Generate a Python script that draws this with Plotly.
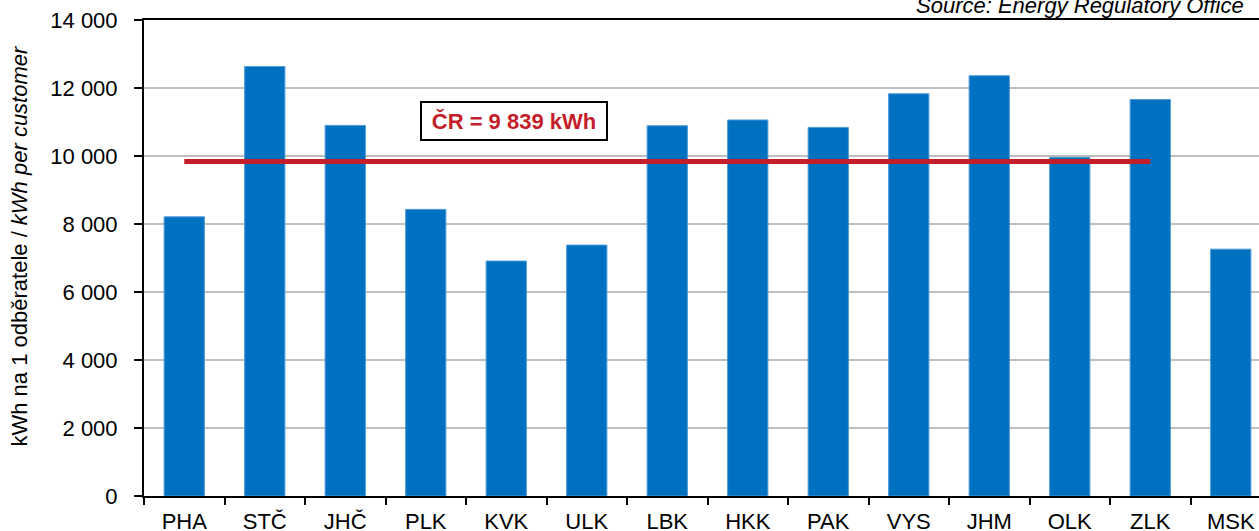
import plotly.graph_objects as go

regions = ["PHA", "STČ", "JHČ", "PLK", "KVK", "ULK", "LBK", "HKK", "PAK", "VYS", "JHM", "OLK", "ZLK", "MSK"]
consumption = [8210, 12630, 10900, 8430, 6910, 7380, 10890, 11060, 10840, 11830, 12360, 9960, 11660, 7260]
national_avg = 9839
avg_label = "ČR = 9 839 kWh"
y_title = "kWh na 1 odběratele / <i>kWh per customer</i>"
source_text = "<i>Source: Energy Regulatory Office</i>"

W, H = 1259, 531
L, R, T, B = 144, 0, 20, 35
PW, PH = W - L - R, H - T - B
FONT = "Liberation Sans, Arial, sans-serif"
FS = 22

fig = go.Figure()
fig.add_trace(go.Bar(
    x=regions, y=consumption, width=0.5,
    marker=dict(color="#0070C0", line=dict(color="#4A9AD8", width=1)),
    showlegend=False,
))
fig.add_trace(go.Scatter(
    x=regions[:13], y=[national_avg] * 13, mode="lines",
    line=dict(color="#C41E2A", width=5),
    showlegend=False,
))

fig.add_annotation(
    text="<b>" + avg_label + "</b>", xref="paper", yref="y",
    x=(514 - L) / PW, y=11030, xanchor="center", yanchor="middle",
    showarrow=False, font=dict(family=FONT, size=FS, color="#C41E2A"),
    bordercolor="black", borderwidth=2, borderpad=3, bgcolor="white",
    width=178, height=30,
)
fig.add_annotation(
    text=source_text, xref="paper", yref="paper",
    x=(1246 - L) / PW, y=(H - B - 20) / PH, xanchor="right", yanchor="bottom",
    showarrow=False, font=dict(family=FONT, size=FS, color="black"),
)
fig.add_annotation(
    text=y_title, xref="paper", yref="paper",
    x=(18.5 - L) / PW, y=(H - B - 246) / PH, xanchor="center", yanchor="middle",
    textangle=-90, showarrow=False, font=dict(family=FONT, size=FS, color="black"),
)

fig.update_layout(
    width=W, height=H,
    margin=dict(l=L, r=R, t=T, b=B, autoexpand=False),
    paper_bgcolor="white", plot_bgcolor="white",
    font=dict(family=FONT, size=FS, color="black"),
    separators=". ",
)
fig.update_xaxes(
    type="category", range=[-0.5, -0.5 + PW / 80.5],
    showline=True, linecolor="black", linewidth=2, mirror=True,
    ticks="outside", tickson="boundaries", ticklen=7, tickcolor="black", tickwidth=1.5,
    showgrid=False, automargin=False, ticklabelstandoff=5,
    tickfont=dict(family=FONT, size=FS, color="black"),
)
fig.update_yaxes(
    range=[0, 14000], dtick=2000, tickformat=",d",
    showline=True, linecolor="black", linewidth=2,
    ticks="outside", ticklen=8, tickcolor="black", tickwidth=1.5,
    showgrid=True, gridcolor="#BFBFBF", gridwidth=1.5,
    zeroline=False, automargin=False, ticklabelstandoff=12,
    tickfont=dict(family=FONT, size=FS, color="black"),
)

fig.write_html("out.html", config={"displayModeBar": False},
               post_script="document.body.style.margin='0';")
